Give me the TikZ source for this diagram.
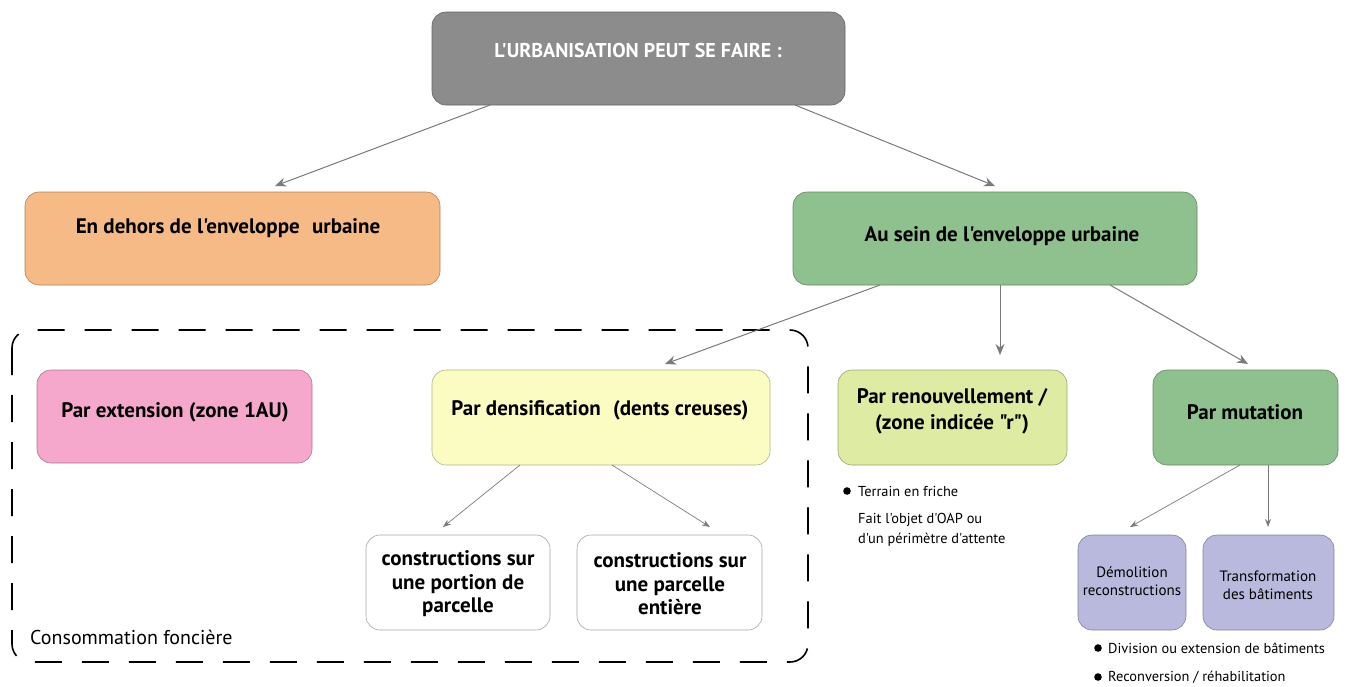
\documentclass[tikz,border=0pt]{standalone}
\usepackage{fontspec}
\setmainfont{PT Sans}[Ligatures=TeXOff]
\usetikzlibrary{arrows.meta}
\definecolor{topgray}{HTML}{8C8C8C}
\definecolor{orangef}{HTML}{F6BA86}
\definecolor{greenf}{HTML}{8FC18F}
\definecolor{pinkf}{HTML}{F6A8CC}
\definecolor{yellowf}{HTML}{FBFCC2}
\definecolor{limef}{HTML}{DDEBA3}
\definecolor{lilacf}{HTML}{B8B9DD}
\definecolor{arr}{HTML}{7A7A7A}
\begin{document}
\begin{tikzpicture}[x=1pt,y=-1pt,
  box/.style={draw=#1!70!black, line width=0.6pt, rounded corners=14pt},
  lbl/.style={font=\bfseries\fontsize{21}{25}\selectfont, align=center, inner sep=0pt},
  small/.style={font=\fontsize{14.4}{18}\selectfont, align=left, inner sep=0pt, anchor=west},
  conn/.style={draw=arr, line width=1pt, -{Stealth[length=11pt,width=9pt]}},
  connsm/.style={draw=arr, line width=0.7pt, -{Stealth[length=8pt,width=6pt]}},
]
\useasboundingbox (0,0) rectangle (1349,686);
% boxes
\filldraw[box=topgray, fill=topgray] (432,12) rectangle (845,105);
\node[lbl, text=white, font=\bfseries\fontsize{20}{24}\selectfont] (top) at (638,50) {L'URBANISATION PEUT SE FAIRE :};
\coordinate (topL) at (490,105); \coordinate (topR) at (795,105);

\filldraw[box=orangef, fill=orangef] (25,192) rectangle (440,285);
\node[lbl] (dehors) at (228,228) {En dehors de l'enveloppe\,\, urbaine};
\coordinate (dehorsT) at (275,186);

\filldraw[box=greenf, fill=greenf] (793,192) rectangle (1197,285);
\node[lbl] (sein) at (1002,236) {Au sein de l'enveloppe urbaine};
\coordinate (seinT) at (995,186);
\coordinate (seinB1) at (880,285); \coordinate (seinB2) at (1000,285); \coordinate (seinB3) at (1110,285);

% dashed frame
\draw[dash pattern=on 27pt off 20pt, line width=1.6pt, rounded corners=18pt] (12,330) rectangle (808,662);
\node[font=\fontsize{20}{24}\selectfont, anchor=west, inner sep=0pt] (conso) at (30,637) {Consommation foncière};

\filldraw[box=pinkf, fill=pinkf] (37,370) rectangle (312,463);
\node[lbl] (ext) at (175,412) {Par extension (zone 1AU)};

\filldraw[box=yellowf, fill=yellowf] (432,370) rectangle (770,465);
\node[lbl] (dens) at (600,410) {Par densification\,\, (dents creuses)};
\coordinate (densT) at (665,364);
\coordinate (densB1) at (520,465); \coordinate (densB2) at (612,465);

\filldraw[box=limef, fill=limef] (838,370) rectangle (1067,465);
\node[lbl, font=\bfseries\fontsize{21}{26}\selectfont] (renouv) at (952,411) {Par renouvellement /\\(zone indicée "r")};
\coordinate (renouvT) at (1000,355);

\filldraw[box=greenf, fill=greenf] (1153,370) rectangle (1338,465);
\node[lbl] (mut) at (1245,412) {Par mutation};
\coordinate (mutT) at (1248,364);
\coordinate (mutB1) at (1240,465); \coordinate (mutB2) at (1268,465);

\filldraw[draw=gray!70, line width=0.6pt, fill=white, rounded corners=14pt] (366,535) rectangle (550,630);
\node[lbl, font=\bfseries\fontsize{21}{23.5}\selectfont] (c1) at (458,584) {constructions sur\\une portion de\\parcelle};
\coordinate (c1T) at (443,527);
\filldraw[draw=gray!70, line width=0.6pt, fill=white, rounded corners=14pt] (577,535) rectangle (762,630);
\node[lbl, font=\bfseries\fontsize{21}{23.5}\selectfont] (c2) at (670,584) {constructions sur\\une parcelle\\entière};
\coordinate (c2T) at (710,527);

\filldraw[box=lilacf, fill=lilacf] (1078,535) rectangle (1186,630);
\node[lbl, font=\fontsize{15}{18}\selectfont] (demo) at (1132,581) {Démolition\\reconstructions};
\coordinate (demoT) at (1130,527);
\filldraw[box=lilacf, fill=lilacf] (1203,535) rectangle (1334,630);
\node[lbl, font=\fontsize{15}{18}\selectfont] (transf) at (1268,585) {Transformation\\des bâtiments};
\coordinate (transfT) at (1268,527);

% small texts
\fill (847,491) circle (3.8pt);
\node[small] (friche) at (858,491) {Terrain en friche};
\node[small, font=\fontsize{14.4}{20}\selectfont] (oap) at (858,530) {Fait l'objet d'OAP ou\\d'un périmètre d'attente};
\fill (1098,648) circle (3.8pt);
\node[small] (div) at (1108,648) {Division ou extension de bâtiments};
\fill (1098,677) circle (3.8pt);
\node[small] (recon) at (1108,677) {Reconversion / réhabilitation};

% connectors
\draw[conn] (topL) -- (dehorsT);
\draw[conn] (topR) -- (seinT);
\draw[conn] (seinB1) -- (densT);
\draw[conn] (seinB2) -- (renouvT);
\draw[conn] (seinB3) -- (mutT);
\draw[connsm] (densB1) -- (c1T);
\draw[connsm] (densB2) -- (c2T);
\draw[connsm] (mutB1) -- (demoT);
\draw[connsm] (mutB2) -- (transfT);
\end{tikzpicture}
\end{document}
